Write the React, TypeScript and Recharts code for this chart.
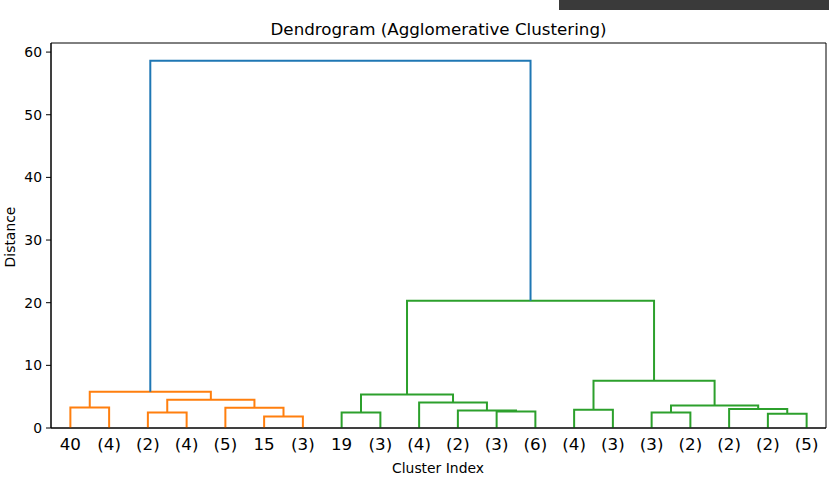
import { Line, LineChart, ReferenceArea, XAxis, YAxis } from "recharts"

// leaf labels, left to right (scipy leaf order)
const leafLabels = ["40", "(4)", "(2)", "(4)", "(5)", "15", "(3)", "19", "(3)", "(4)", "(2)", "(3)", "(6)", "(4)", "(3)", "(3)", "(2)", "(2)", "(2)", "(5)"]

// merges: node ids 20.. in order, children refer to leaf index or earlier node id
const mergeLeft = [5, 2, 0, 4, 21, 22, 18, 7, 15, 11, 10, 13, 17, 28, 9, 27, 31, 35, 25]
const mergeRight = [6, 3, 1, 20, 23, 24, 19, 8, 16, 12, 29, 14, 26, 32, 30, 34, 33, 36, 37]
const mergeHeight = [1.85, 2.49, 3.29, 3.25, 4.52, 5.79, 2.28, 2.49, 2.49, 2.65, 2.81, 2.92, 3.03, 3.61, 4.08, 5.36, 7.55, 20.3, 58.6]
const mergeCluster = ["C1", "C1", "C1", "C1", "C1", "C1", "C2", "C2", "C2", "C2", "C2", "C2", "C2", "C2", "C2", "C2", "C2", "C2", "C0"]

const yTicks = [0, 10, 20, 30, 40, 50, 60]

const clusterColors: Record<string, string> = { C0: "#1f77b4", C1: "#ff7f0e", C2: "#2ca02c" }
const font = "DejaVu Sans, sans-serif"

const leafX = leafLabels.map((_, i) => 5 + 10 * i)

// build U-shaped links like scipy's icoord/dcoord
const nodeX: number[] = [...leafX]
const nodeY: number[] = leafLabels.map(() => 0)
const links = mergeLeft.map((l, k) => {
  const r = mergeRight[k]
  const h = mergeHeight[k]
  const pts = [
    { x: nodeX[l], y: nodeY[l] },
    { x: nodeX[l], y: h },
    { x: nodeX[r], y: h },
    { x: nodeX[r], y: nodeY[r] },
  ]
  nodeX.push((nodeX[l] + nodeX[r]) / 2)
  nodeY.push(h)
  return { pts, color: clusterColors[mergeCluster[k]] }
})

export default function App() {
  return (
    <div style={{ position: "absolute", left: 0, top: 0, width: 829, height: 480, background: "#fff", fontFamily: font }}>
      <div style={{ position: "absolute", left: 559, top: 0, width: 270, height: 10, background: "#3a3a3a" }} />
      <div style={{ position: "absolute", left: 51, width: 775, top: 19, textAlign: "center", fontSize: 16.7, lineHeight: "20px", color: "#000" }}>
        Dendrogram (Agglomerative Clustering)
      </div>
      <LineChart width={829} height={480} margin={{ top: 43, right: 3, bottom: 0, left: 0 }}>
        <XAxis
          type="number"
          dataKey="x"
          domain={[0, 200]}
          ticks={leafX}
          interval={0}
          tickFormatter={(v) => leafLabels[Math.round((v - 5) / 10)]}
          tickSize={0}
          tickMargin={10}
          tickLine={false}
          axisLine={{ stroke: "#000" }}
          tick={{ fill: "#000", fontSize: 16.7, fontFamily: font }}
          height={52}
          label={{
            content: () => (
              <text x={438} y={473} textAnchor="middle" fontSize={13.9} fontFamily={font} fill="#000">
                Cluster Index
              </text>
            ),
          }}
        />
        <YAxis
          type="number"
          domain={[0, 61.45]}
          ticks={yTicks}
          tickSize={5}
          tickMargin={4}
          tickLine={{ stroke: "#000" }}
          axisLine={{ stroke: "#000" }}
          tick={{ fill: "#000", fontSize: 13.9, fontFamily: font }}
          width={51}
          allowDataOverflow
          label={{
            content: () => (
              <text x={11} y={237} transform="rotate(-90 11 237)" textAnchor="middle" dominantBaseline="middle" fontSize={13.9} fontFamily={font} fill="#000">
                Distance
              </text>
            ),
          }}
        />
        <ReferenceArea x1={0} x2={200} y1={0} y2={61.45} fill="none" stroke="#000" strokeWidth={1} ifOverflow="visible" />
        {links.map((lk, i) => (
          <Line
            key={i}
            data={lk.pts}
            dataKey="y"
            type="linear"
            stroke={lk.color}
            strokeWidth={2}
            dot={false}
            activeDot={false}
            legendType="none"
            isAnimationActive={false}
          />
        ))}
      </LineChart>
    </div>
  )
}
